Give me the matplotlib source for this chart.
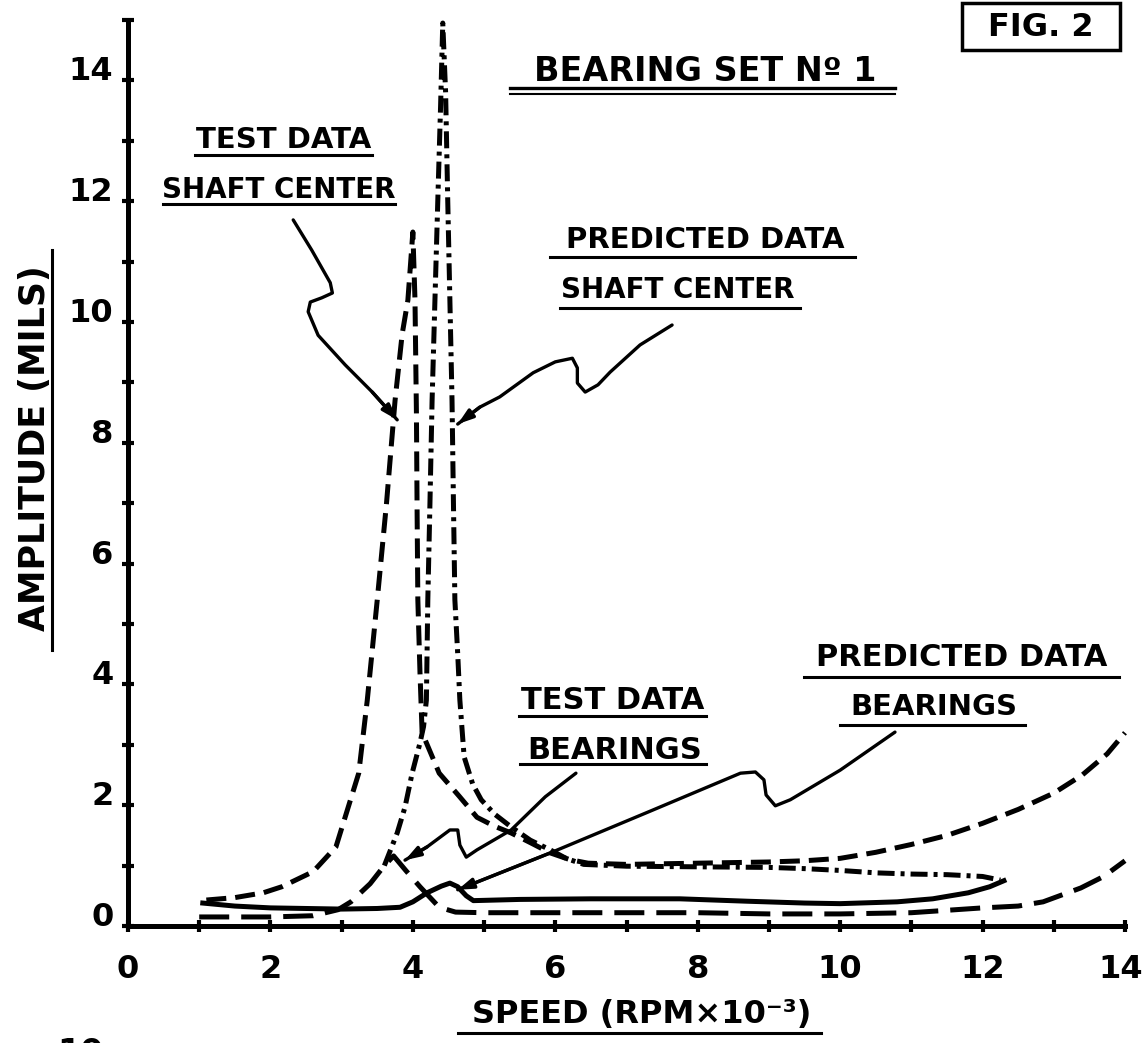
import matplotlib
matplotlib.use('Agg')
import matplotlib.pyplot as plt
from matplotlib.lines import Line2D
from matplotlib.patches import Rectangle
from matplotlib.transforms import ScaledTranslation

# ---- data (speed in 1000 rpm, amplitude in mils) ----
# test data, shaft center (short dashes)
test_shaft_x = [1.1, 1.5, 1.9, 2.16, 2.6, 2.92, 3.24, 3.36, 3.5, 3.63, 3.75, 3.85, 3.93, 3.97, 4.0, 4.03,
                4.05, 4.06, 4.07, 4.1, 4.13, 4.37, 4.65, 4.9, 5.15, 5.38, 5.65, 5.93, 6.2, 6.46, 7.0, 7.5,
                8.0, 8.5, 9.0, 9.5, 10.0, 10.5, 11.0, 11.5, 12.0, 12.5, 13.0, 13.4, 13.75, 14.0]
test_shaft_y = [0.43, 0.47, 0.55, 0.65, 0.9, 1.31, 2.53, 3.74, 5.4, 7.0, 8.7, 9.8, 10.36, 11.0, 11.49, 10.36,
                8.5, 6.8, 5.4, 4.2, 3.2, 2.53, 2.15, 1.8, 1.65, 1.54, 1.38, 1.21, 1.1, 1.04, 1.02, 1.03,
                1.04, 1.05, 1.06, 1.08, 1.12, 1.22, 1.35, 1.5, 1.7, 1.93, 2.2, 2.5, 2.85, 3.2]

# predicted data, shaft center (dash-dot)
pred_shaft_x = [3.6, 3.78, 3.89, 3.99, 4.1, 4.15, 4.19, 4.21, 4.24, 4.27, 4.31, 4.35, 4.39, 4.42, 4.46,
                4.49, 4.52, 4.55, 4.57, 4.59, 4.63, 4.66, 4.72, 4.84, 4.96, 5.15, 5.38, 5.65, 5.93, 6.15,
                6.4, 7.0, 8.0, 9.0, 9.5, 10.0, 10.5, 11.0, 11.5, 12.0, 12.25]
pred_shaft_y = [1.0, 1.54, 1.97, 2.53, 3.03, 3.3, 3.74, 5.4, 7.0, 8.7, 10.36, 12.0, 13.6, 14.95, 13.8,
                12.0, 10.36, 8.7, 7.0, 5.4, 4.5, 3.74, 2.8, 2.35, 2.09, 1.85, 1.64, 1.42, 1.26, 1.12,
                1.02, 0.99, 0.98, 0.97, 0.95, 0.92, 0.88, 0.86, 0.85, 0.82, 0.76]

# test data, bearings (long dashes)
test_brg_x = [1.0, 1.5, 2.0, 2.6, 2.95, 3.13, 3.4, 3.6, 3.73, 3.9, 4.1, 4.37, 4.6, 5.0, 6.0, 7.0,
              8.0, 9.0, 10.0, 11.0, 12.0, 12.5, 12.85, 13.38, 13.7, 14.0]
test_brg_y = [0.15, 0.15, 0.15, 0.17, 0.27, 0.4, 0.7, 1.0, 1.16, 0.92, 0.65, 0.31, 0.23, 0.22, 0.22, 0.22,
              0.22, 0.2, 0.2, 0.22, 0.3, 0.33, 0.4, 0.63, 0.82, 1.08]

# predicted data, bearings (solid)
pred_brg_x = [1.05, 1.5, 2.0, 2.5, 3.0, 3.5, 3.82, 4.0, 4.2, 4.4, 4.52, 4.63, 4.75, 4.85, 5.5, 6.5,
              7.75, 8.7, 9.5, 10.0, 10.8, 11.3, 11.8, 12.1, 12.3]
pred_brg_y = [0.38, 0.33, 0.3, 0.29, 0.28, 0.29, 0.31, 0.4, 0.55, 0.66, 0.71, 0.65, 0.5, 0.42, 0.44, 0.45,
              0.45, 0.41, 0.38, 0.37, 0.4, 0.45, 0.55, 0.65, 0.75]

x_ticks = [0, 2, 4, 6, 8, 10, 12, 14]
y_ticks = [0, 2, 4, 6, 8, 10, 12, 14]

# leader lines from the captions to the curves (data coords)
lead_test_shaft = [(2.32, 11.69), (2.58, 11.19), (2.84, 10.65), (2.87, 10.48), (2.72, 10.4), (2.56, 10.33),
                   (2.53, 10.17), (2.67, 9.78), (3.05, 9.29), (3.43, 8.84), (3.78, 8.38)]
lead_pred_shaft = [(7.64, 9.95), (7.19, 9.62), (6.77, 9.17), (6.6, 8.96), (6.42, 8.84), (6.31, 8.99),
                   (6.31, 9.24), (6.24, 9.4), (6.0, 9.34), (5.69, 9.16), (5.22, 8.76), (4.94, 8.59),
                   (4.63, 8.31)]
lead_test_brg = [(6.29, 2.53), (5.86, 2.14), (5.38, 1.59), (4.9, 1.26), (4.75, 1.14), (4.66, 1.34),
                 (4.63, 1.59), (4.52, 1.59), (4.2, 1.31), (3.89, 1.09)]
lead_pred_brg = [(10.77, 3.21), (10.0, 2.58), (9.3, 2.09), (9.09, 1.99), (8.96, 2.17), (8.93, 2.42),
                 (8.81, 2.55), (8.6, 2.53), (7.33, 1.9), (5.93, 1.21), (4.63, 0.6)]

W, H = 1145, 1043
plt.rcParams['font.family'] = ['DejaVu Sans']
plt.rcParams['font.weight'] = 'bold'

fig = plt.figure(figsize=(W / 100, H / 100), dpi=100)
ax = fig.add_axes([128 / W, 1 - 926 / H, 997 / W, 906 / H])
ax.set_xlim(0, 14)
ax.set_ylim(0, 15)

for s in ['top', 'right']:
    ax.spines[s].set_visible(False)
for s in ['left', 'bottom']:
    ax.spines[s].set_linewidth(3.6)

ax.set_xticks(x_ticks)
ax.set_xticks(range(1, 14, 2), minor=True)
ax.set_yticks(y_ticks)
ax.set_yticks(range(1, 16, 2), minor=True)
ax.set_xticklabels([str(v) for v in x_ticks])
ax.set_yticklabels([str(v) for v in y_ticks])
ax.tick_params(which='both', direction='inout', length=9, width=3)
ax.tick_params(axis='both', labelsize=23, pad=6)
ax.tick_params(axis='x', pad=16)
for lab in ax.get_yticklabels():
    lab.set_transform(lab.get_transform() + ScaledTranslation(0, 0.12, fig.dpi_scale_trans))
last = ax.get_xticklabels()[-1]
last.set_transform(last.get_transform() + ScaledTranslation(-0.04, 0, fig.dpi_scale_trans))

lw = 3.6
ax.plot(test_shaft_x, test_shaft_y, color='black', lw=lw, dashes=(4, 1.8), clip_on=False)
ax.plot(pred_shaft_x, pred_shaft_y, color='black', lw=lw, dashes=(3.4, 1.2, 0.8, 1.2), clip_on=False)
ax.plot(test_brg_x, test_brg_y, color='black', lw=lw, dashes=(6, 2.4), clip_on=False)
ax.plot(pred_brg_x, pred_brg_y, color='black', lw=lw, clip_on=False)

# leaders with arrow heads
for path in [lead_test_shaft, lead_pred_shaft, lead_test_brg, lead_pred_brg]:
    xs = [p[0] for p in path]
    ys = [p[1] for p in path]
    ax.plot(xs, ys, color='black', lw=2.4, solid_capstyle='round', clip_on=False)
    ax.annotate('', xy=path[-1], xytext=path[-2],
                arrowprops=dict(arrowstyle='-|>,head_length=0.9,head_width=0.3',
                                color='black', lw=2.4, shrinkA=0, shrinkB=0))

# captions (text, x, y, size, underline x0, x1, underline y)
captions = [
    ("TEST DATA", 2.18, 13.01, 21, 0.94, 3.43, 12.77),
    ("SHAFT CENTER", 2.12, 12.19, 20, 0.49, 3.75, 11.95),
    ("PREDICTED DATA", 8.1, 11.36, 21, 5.93, 10.21, 11.08),
    ("SHAFT CENTER", 7.72, 10.53, 20, 6.07, 9.44, 10.23),
    ("TEST DATA", 6.8, 3.74, 22, 5.49, 8.12, 3.48),
    ("BEARINGS", 6.84, 2.91, 22, 5.5, 8.12, 2.68),
    ("PREDICTED DATA", 11.71, 4.44, 22, 9.49, 13.92, 4.12),
    ("BEARINGS", 11.31, 3.63, 21, 10.0, 12.6, 3.33),
]
for txt, tx, ty, fs, u0, u1, uy in captions:
    ax.text(tx, ty, txt, ha='center', va='center', fontsize=fs)
    ax.plot([u0, u1], [uy, uy], color='black', lw=2.2, clip_on=False)

ax.text(8.1, 14.14, "BEARING SET Nº 1", ha='center', va='center', fontsize=24)
ax.plot([5.37, 10.77], [13.87, 13.87], color='black', lw=2.4, clip_on=False)
ax.plot([5.37, 10.77], [13.78, 13.78], color='black', lw=1.5, clip_on=False)

# axis titles
fig.text(35 / W, 1 - 448 / H, "AMPLITUDE (MILS)", rotation=90, ha='center', va='center', fontsize=25)
fig.add_artist(Line2D([52 / W, 52 / W], [1 - 250 / H, 1 - 650 / H], color='black', lw=2.2,
                      transform=fig.transFigure))
fig.text(642 / W, 1 - 1015 / H, "SPEED (RPM×10⁻³)", ha='center', va='center', fontsize=23)
fig.add_artist(Line2D([458 / W, 821 / W], [1 - 1033 / H, 1 - 1033 / H], color='black', lw=2.2,
                      transform=fig.transFigure))

# figure number box
fig.text(1041 / W, 1 - 27 / H, "FIG. 2", ha='center', va='center', fontsize=23)
fig.add_artist(Rectangle((962 / W, 1 - 50 / H), 158 / W, 47 / H, transform=fig.transFigure,
                         fill=False, lw=2.5, ec='black'))

# page number cut by the bottom edge, as on the scan
fig.text(80 / W, 1 - 1037 / H, "10", ha='center', va='top', fontsize=24)

fig.savefig('out.png', dpi=100, facecolor='white')
